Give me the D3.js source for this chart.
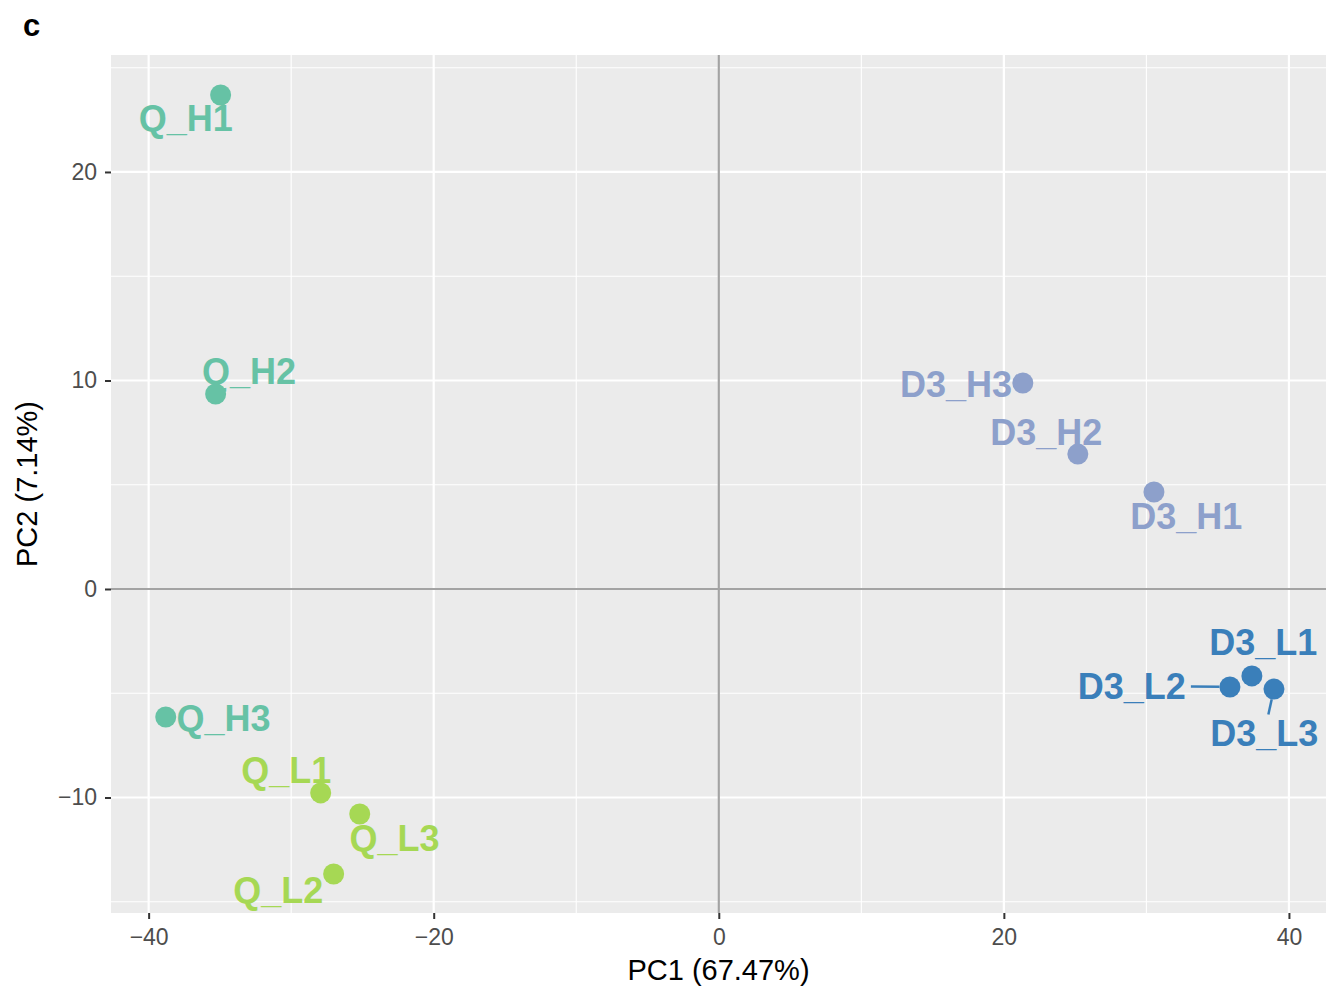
<!DOCTYPE html>
<html><head><meta charset="utf-8">
<script src="https://cdn.jsdelivr.net/npm/d3@7"></script>
<style>body{margin:0;background:#fff}svg{display:block}text{font-family:"Liberation Sans",Arial,Helvetica,sans-serif}</style>
</head><body>
<svg id="chart" width="1326" height="988"></svg>
<script>
// ---- data ----
const samples = ["Q_H1","Q_H2","Q_H3","Q_L1","Q_L2","Q_L3","D3_H1","D3_H2","D3_H3","D3_L1","D3_L2","D3_L3"];
const groups  = ["Q_H","Q_H","Q_H","Q_L","Q_L","Q_L","D3_H","D3_H","D3_H","D3_L","D3_L","D3_L"];
const pc1 = [-34.95,-35.3,-38.8,-27.93,-27.02,-25.19,30.53,25.19,21.33,37.4,35.86,38.95];
const pc2 = [23.69,9.35,-6.14,-9.78,-13.67,-10.79,4.65,6.47,9.88,-4.17,-4.70,-4.80];
// repelled label positions (data units, label centre)
const labelX = [-37.4,-32.95,-34.74,-30.35,-30.9,-22.75,32.8,22.98,16.65,38.2,28.98,38.27];
const labelY = [22.59,10.46,-6.19,-8.68,-14.44,-11.94,3.50,7.53,9.83,-2.54,-4.65,-6.91];
const groupNames = ["Q_H","Q_L","D3_H","D3_L"];
const groupColors = ["#66C2A5","#A6D854","#8DA0CB","#3A7FBA"];
const xTicks = [-40,-20,0,20,40];
const yTicks = [-10,0,10,20];
const xMinor = [-30,-10,10,30];
const yMinor = [-15,-5,5,15,25];
const xTitle = "PC1 (67.47%)";
const yTitle = "PC2 (7.14%)";
const panelTag = "c";

// ---- layout ----
const svg = d3.select("#chart");
const P = {l:111, r:1326, t:55, b:913};
const x = d3.scaleLinear().domain([-42.64, 42.6]).range([P.l, P.r]);
const y = d3.scaleLinear().domain([-15.54, 25.61]).range([P.b, P.t]);
const color = d3.scaleOrdinal().domain(groupNames).range(groupColors);

svg.append("rect").attr("x",P.l).attr("y",P.t).attr("width",P.r-P.l).attr("height",P.b-P.t).attr("fill","#EBEBEB");

const grid = svg.append("g");
grid.selectAll(".xm").data(xMinor).join("line").attr("x1",d=>x(d)).attr("x2",d=>x(d)).attr("y1",P.t).attr("y2",P.b).attr("stroke","#fff").attr("stroke-width",1.1);
grid.selectAll(".ym").data(yMinor).join("line").attr("y1",d=>y(d)).attr("y2",d=>y(d)).attr("x1",P.l).attr("x2",P.r).attr("stroke","#fff").attr("stroke-width",1.1);
grid.selectAll(".xM").data(xTicks).join("line").attr("x1",d=>x(d)).attr("x2",d=>x(d)).attr("y1",P.t).attr("y2",P.b).attr("stroke","#fff").attr("stroke-width",2.2);
grid.selectAll(".yM").data(yTicks).join("line").attr("y1",d=>y(d)).attr("y2",d=>y(d)).attr("x1",P.l).attr("x2",P.r).attr("stroke","#fff").attr("stroke-width",2.2);

// zero reference lines
svg.append("line").attr("x1",x(0)).attr("x2",x(0)).attr("y1",P.t).attr("y2",P.b).attr("stroke","#A3A3A3").attr("stroke-width",2.2);
svg.append("line").attr("y1",y(0)).attr("y2",y(0)).attr("x1",P.l).attr("x2",P.r).attr("stroke","#A3A3A3").attr("stroke-width",2.2);

// axes
const fmt = d=>d3.format("")(d).replace("-","\u2212");
const xAxis = svg.append("g").attr("transform",`translate(0,${P.b})`)
  .call(d3.axisBottom(x).tickValues(xTicks).tickSize(6).tickPadding(10).tickFormat(fmt));
const yAxis = svg.append("g").attr("transform",`translate(${P.l},0)`)
  .call(d3.axisLeft(y).tickValues(yTicks).tickSize(6).tickPadding(8).tickFormat(fmt));
[xAxis,yAxis].forEach(a=>{
  a.select(".domain").remove();
  a.selectAll(".tick line").attr("stroke","#333").attr("stroke-width",2);
  a.selectAll(".tick text").attr("fill","#4D4D4D").style("font-size","23px").style("font-family","'Liberation Sans',Arial,sans-serif");
});

// titles
svg.append("text").attr("x",(P.l+P.r)/2).attr("y",980).attr("text-anchor","middle").style("font-size","29px").attr("fill","#000").text(xTitle);
svg.append("text").attr("transform",`translate(37,${(P.t+P.b)/2}) rotate(-90)`).attr("text-anchor","middle").style("font-size","29px").attr("fill","#000").text(yTitle);
svg.append("text").attr("x",23).attr("y",36).style("font-size","31px").style("font-weight","bold").text(panelTag);

// data rows
const rows = samples.map((s,i)=>({s, g:groups[i], px:x(pc1[i]), py:y(pc2[i]), lx:x(labelX[i]), ly:y(labelY[i])}));
const R = 10.5;

const segG = svg.append("g");
const ptG = svg.append("g");
const lblG = svg.append("g");
const labels = lblG.selectAll("text").data(rows).join("text")
  .attr("x",d=>d.lx).attr("y",d=>d.ly).attr("dy","0.36em").attr("text-anchor","middle")
  .style("font-size","36px").style("font-weight","bold").attr("fill",d=>color(d.g)).text(d=>d.s);

labels.each(function(d){
  const w = this.getComputedTextLength();
  const hw = w/2 + 5, hh = 13.5 + 5;
  const dx = d.px - d.lx, dy = d.py - d.ly;
  const dist = Math.hypot(dx,dy);
  if (dist === 0) return;
  const tx = dx !== 0 ? hw/Math.abs(dx) : Infinity;
  const ty = dy !== 0 ? hh/Math.abs(dy) : Infinity;
  const t0 = Math.min(tx,ty);
  const t1 = 1 - R/dist;
  if ((t1 - t0)*dist > 10) {
    segG.append("line")
      .attr("x1",d.lx+dx*t0).attr("y1",d.ly+dy*t0)
      .attr("x2",d.lx+dx*t1).attr("y2",d.ly+dy*t1)
      .attr("stroke",color(d.g)).attr("stroke-width",2.5);
  }
});

ptG.selectAll("circle").data(rows).join("circle")
  .attr("cx",d=>d.px).attr("cy",d=>d.py).attr("r",R).attr("fill",d=>color(d.g));
</script>
</body></html>
